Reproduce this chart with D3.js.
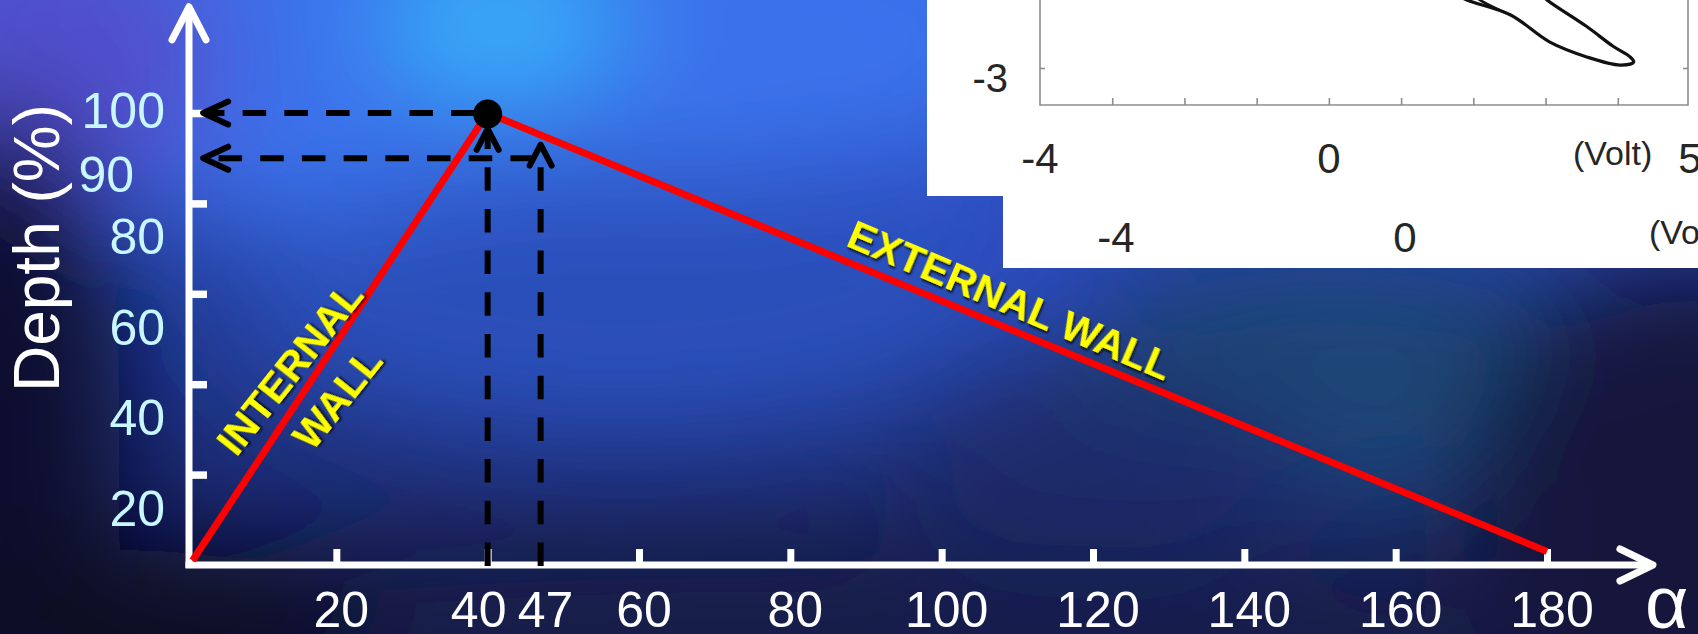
<!DOCTYPE html>
<html>
<head>
<meta charset="utf-8">
<script src="https://cdn.jsdelivr.net/npm/d3@7"></script>
<style>
  html, body { margin: 0; padding: 0; background: #1a2468; overflow: hidden; }
  svg { display: block; }
  text { font-family: "Liberation Sans", Arial, Helvetica, sans-serif; }
</style>
</head>
<body>
<svg id="chart" width="1698" height="634"></svg>
<script>
// ---- Wall profile: depth (%) against angle alpha ----
const internalAlpha = [1, 40];
const internalDepth = [1, 100];
const externalAlpha = [40, 180];
const externalDepth = [100, 3];
const peakAlpha = 40;
const peakDepth = 100;

const xTicks  = [20, 40, 60, 80, 100, 120, 140, 160, 180];
const xLabels = [20, 40, 47, 60, 80, 100, 120, 140, 160, 180];
const yTicks  = [20, 40, 60, 80, 100];
const yLabels = [20, 40, 60, 80, 90, 100];

// guide arrows: up from the alpha axis to the wall, then across to the depth axis
const guideAlpha    = [40, 47];
const guideTipDepth = [96.5, 93];
const guideDepth    = [100, 90];

// ---- Inset: voltage loop ----
const insetXTicks  = [-3, -2, -1, 0, 1, 2, 3, 4];
const insetXLabels = [-4, 0, 5];
const insetYTicks  = [-3];
const loopX  = [1.68, 1.91, 2.51, 3.06, 3.57, 4.03, 4.22, 4.17, 3.94, 3.57, 3.02, 2.90];
const loopY  = [-1.97, -2.08, -2.28, -2.65, -2.85, -2.96, -2.92, -2.85, -2.71, -2.44, -2.08, -1.97];
const innerX = [1.95, 2.09, 2.46];
const innerY = [-1.97, -2.08, -2.26];

const W = 1698, H = 634;
const svg = d3.select("#chart");
const defs = svg.append("defs");

// ---------- background: soft blue haze ----------
const base = defs.append("linearGradient").attr("id", "bgBase")
  .attr("x1", 0).attr("y1", 0).attr("x2", 0).attr("y2", 1);
base.append("stop").attr("offset", 0).attr("stop-color", "#3358d6");
base.append("stop").attr("offset", 0.45).attr("stop-color", "#233f9e");
base.append("stop").attr("offset", 1).attr("stop-color", "#171d52");

defs.append("filter").attr("id", "haze")
  .attr("filterUnits", "userSpaceOnUse")
  .attr("x", -300).attr("y", -300).attr("width", W + 600).attr("height", H + 600)
  .append("feGaussianBlur").attr("stdDeviation", 55);

svg.append("rect").attr("width", W).attr("height", H).attr("fill", "url(#bgBase)");
const blobs = [
  { cx: 480, cy: 40,  rx: 560, ry: 190, c: "#3a72ec" },
  { cx: 500, cy: 25,  rx: 120, ry: 60,  c: "#36b6fa" },
  { cx: 60,  cy: 60,  rx: 170, ry: 140, c: "#5150cc" },
  { cx: 900, cy: 240, rx: 220, ry: 90,  c: "#2d4ec4" },
  { cx: 620, cy: 300, rx: 380, ry: 130, c: "#2a50ba" },
  { cx: 1330,cy: 380, rx: 280, ry: 110, c: "#1c4676" },
  { cx: 1100,cy: 470, rx: 220, ry: 90,  c: "#1b2c6c" },
  { cx: 0,   cy: 430, rx: 120, ry: 330, c: "#0d0f2e" },
  { cx: 800, cy: 690, rx: 1000,ry: 150, c: "#161b4a" },
  { cx: 1690,cy: 520, rx: 230, ry: 260, c: "#12183e" },
  { cx: 120, cy: 640, rx: 260, ry: 90,  c: "#0b0b24" }
];
svg.append("g").attr("filter", "url(#haze)")
  .selectAll("ellipse").data(blobs).join("ellipse")
  .attr("cx", d => d.cx).attr("cy", d => d.cy)
  .attr("rx", d => d.rx).attr("ry", d => d.ry)
  .attr("fill", d => d.c);

// yellow caption shadow
const sh = defs.append("filter").attr("id", "shadow")
  .attr("x", "-10%").attr("y", "-30%").attr("width", "130%").attr("height", "170%");
sh.append("feDropShadow").attr("dx", 2).attr("dy", 2).attr("stdDeviation", 1.3)
  .attr("flood-color", "#000").attr("flood-opacity", 0.75);

// ---------- scales ----------
const x = d3.scaleLinear().domain([0, 180]).range([185, 1547]);
const y = d3.scaleLinear().domain([0, 100]).range([565, 113]);
const axisX = x(0) + 4;          // visual position of the depth axis
const xAxisEnd = x(194);         // arrow tip of alpha axis
const yAxisEnd = y(123.5);       // arrow tip of depth axis

// ---------- inset panels ----------
const ix = d3.scaleLinear().domain([-4, 5]).range([1040, 1690]);
const iy = d3.scaleLinear().domain([-3.5, -3]).range([105, 68]);
const frameRight = 1688;
const ink = "#262626";

// label row under the inset frame
function drawInsetLabels(g) {
  g.selectAll("text.ix").data(insetXLabels).join("text").attr("class", "ix")
    .attr("x", d => ix(d)).attr("y", 173)
    .attr("text-anchor", "middle").attr("font-size", 42).attr("fill", ink)
    .text(d => d);
  g.append("text").attr("x", ix(3.38)).attr("y", 165)
    .attr("font-size", 34).attr("fill", ink).text("(Volt)");
}

// frame, ticks and the loop itself
function drawInsetPlot(g) {
  g.append("path")
    .attr("d", `M${ix(-4)},-5V${iy(-3.5)}H${frameRight}V-5`)
    .attr("fill", "none").attr("stroke", "#8d8d8d").attr("stroke-width", 1.6);

  const bt = g.append("g").attr("transform", `translate(0,${iy(-3.5)})`)
    .call(d3.axisTop(ix).tickValues(insetXTicks).tickSize(7).tickFormat(""));
  bt.select(".domain").remove();
  bt.selectAll("line").attr("stroke", "#8d8d8d").attr("stroke-width", 1.6);

  const lt = g.append("g").attr("transform", `translate(${ix(-4)},0)`)
    .call(d3.axisRight(iy).tickValues(insetYTicks).tickSize(5).tickFormat(""));
  lt.select(".domain").remove();
  lt.selectAll("line").attr("stroke", "#8d8d8d").attr("stroke-width", 1.6);
  const rt = g.append("g").attr("transform", `translate(${frameRight},0)`)
    .call(d3.axisLeft(iy).tickValues(insetYTicks).tickSize(5).tickFormat(""));
  rt.select(".domain").remove();
  rt.selectAll("line").attr("stroke", "#8d8d8d").attr("stroke-width", 1.6);

  g.selectAll("text.iy").data(insetYTicks).join("text").attr("class", "iy")
    .attr("x", ix(-4) - 32).attr("y", d => iy(d) + 24)
    .attr("text-anchor", "end").attr("font-size", 40).attr("fill", ink)
    .text(d => d);

  const loopLine = d3.line().x(d => ix(d[0])).y(d => iy(d[1])).curve(d3.curveCatmullRom);
  g.append("path").datum(d3.zip(loopX, loopY)).attr("d", loopLine)
    .attr("fill", "none").attr("stroke", "#111").attr("stroke-width", 3.2)
    .attr("stroke-linejoin", "round");
  g.append("path").datum(d3.zip(innerX, innerY)).attr("d", loopLine)
    .attr("fill", "none").attr("stroke", "#111").attr("stroke-width", 2.6);
}

defs.append("clipPath").attr("id", "panelBack")
  .append("rect").attr("x", 1003).attr("y", 0).attr("width", W - 1003).attr("height", 268);
defs.append("clipPath").attr("id", "panelFront")
  .append("rect").attr("x", 927).attr("y", 0).attr("width", W - 927).attr("height", 196);

// rear panel: only its bottom label row shows below the front panel
const back = svg.append("g").attr("clip-path", "url(#panelBack)");
back.append("rect").attr("x", 1003).attr("y", 0).attr("width", W - 1003).attr("height", 268).attr("fill", "#fff");
drawInsetLabels(back.append("g").attr("transform", "translate(76,79)"));

const front = svg.append("g").attr("clip-path", "url(#panelFront)");
front.append("rect").attr("x", 927).attr("y", 0).attr("width", W - 927).attr("height", 196).attr("fill", "#fff");
drawInsetPlot(front.append("g"));
drawInsetLabels(front.append("g"));

const plot = svg.append("g");

// ---------- axes ----------
const white = "#ffffff";
plot.append("path")
  .attr("d", `M${axisX},${y(0) + 3}V${yAxisEnd}`)
  .attr("stroke", white).attr("stroke-width", 7).attr("fill", "none");
plot.append("path")
  .attr("d", `M${axisX - 17},${yAxisEnd + 33}L${axisX},${yAxisEnd}L${axisX + 17},${yAxisEnd + 33}`)
  .attr("stroke", white).attr("stroke-width", 7).attr("fill", "none")
  .attr("stroke-linecap", "round").attr("stroke-linejoin", "round");

plot.append("path")
  .attr("d", `M${axisX - 3.5},${y(0)}H${xAxisEnd}`)
  .attr("stroke", white).attr("stroke-width", 7).attr("fill", "none");
plot.append("path")
  .attr("d", `M${xAxisEnd - 33},${y(0) - 16}L${xAxisEnd},${y(0)}L${xAxisEnd - 33},${y(0) + 16}`)
  .attr("stroke", white).attr("stroke-width", 7).attr("fill", "none")
  .attr("stroke-linecap", "round").attr("stroke-linejoin", "round");

const gx = plot.append("g").attr("transform", `translate(0,${y(0)})`)
  .call(d3.axisTop(x).tickValues(xTicks).tickSize(16).tickFormat(""));
gx.select(".domain").remove();
gx.selectAll("line").attr("stroke", white).attr("stroke-width", 7);

const gy = plot.append("g").attr("transform", `translate(${axisX},0)`)
  .call(d3.axisRight(y).tickValues(yTicks).tickSize(18).tickFormat(""));
gy.select(".domain").remove();
gy.selectAll("line").attr("stroke", white).attr("stroke-width", 7.5);

// tick labels
const xLabelShift = v => (v === 40 ? -9 : 5);
plot.selectAll("text.xl").data(xLabels).join("text").attr("class", "xl")
  .attr("x", d => x(d) + xLabelShift(d)).attr("y", 627)
  .attr("text-anchor", "middle").attr("font-size", 50).attr("fill", white)
  .text(d => d);

const yLabelShift = v => (v === 100 ? -3 : v === 90 ? 16 : 33);
plot.selectAll("text.yl").data(yLabels).join("text").attr("class", "yl")
  .attr("x", d => (d === 90 ? 134 : 165)).attr("y", d => y(d) + yLabelShift(d) + 18)
  .attr("text-anchor", "end").attr("font-size", 50).attr("fill", "#c8f7ff")
  .text(d => d);

plot.append("text")
  .attr("transform", "translate(59,248) rotate(-90)")
  .attr("text-anchor", "middle").attr("font-size", 64).attr("fill", white)
  .text("Depth (%)");

plot.append("text").attr("x", xAxisEnd - 8).attr("y", 628)
  .attr("font-size", 75).attr("fill", white).text("α");

// ---------- wall profile ----------
const wallPts = d3.zip(internalAlpha, internalDepth).concat(d3.zip(externalAlpha, externalDepth).slice(1));
plot.append("path").datum(wallPts)
  .attr("d", d3.line().x(d => x(d[0])).y(d => y(d[1])))
  .attr("fill", "none").attr("stroke", "#ff0000").attr("stroke-width", 7)
  .attr("stroke-linejoin", "round");

// ---------- dashed guides ----------
const dash = "23.5 18.2";
guideAlpha.forEach((a, i) => {
  const gxp = x(a), tipY = y(guideTipDepth[i]);
  plot.append("path").attr("d", `M${gxp},${y(0) + 1}V${tipY + 6}`)
    .attr("stroke", "#000").attr("stroke-width", 6).attr("fill", "none")
    .attr("stroke-dasharray", dash);
  plot.append("path")
    .attr("d", `M${gxp - 11},${tipY + 21}L${gxp},${tipY}L${gxp + 11},${tipY + 21}`)
    .attr("stroke", "#000").attr("stroke-width", 6).attr("fill", "none")
    .attr("stroke-linecap", "round").attr("stroke-linejoin", "round");
});
const hOffsets = [28.7, 35];
const arrowX = x(2.4);
guideDepth.forEach((d, i) => {
  const yy = y(d);
  plot.append("path").attr("d", `M${x(guideAlpha[i])},${yy}H${arrowX + 3}`)
    .attr("stroke", "#000").attr("stroke-width", 6).attr("fill", "none")
    .attr("stroke-dasharray", dash).attr("stroke-dashoffset", hOffsets[i]);
  plot.append("path")
    .attr("d", `M${arrowX + 25},${yy - 11.5}L${arrowX},${yy}L${arrowX + 25},${yy + 11.5}`)
    .attr("stroke", "#000").attr("stroke-width", 6).attr("fill", "none")
    .attr("stroke-linecap", "round").attr("stroke-linejoin", "round");
});

plot.append("circle").attr("cx", x(peakAlpha)).attr("cy", y(peakDepth) + 1)
  .attr("r", 14.5).attr("fill", "#000");

// ---------- wall captions ----------
const yellow = "#ffff00";
const inner = plot.append("g")
  .attr("transform", `translate(${x(15.3)},${y(41.6)}) rotate(-51.5)`)
  .attr("filter", "url(#shadow)")
  .attr("font-size", 41).attr("font-weight", "bold").attr("fill", yellow)
  .attr("text-anchor", "middle");
inner.append("text").attr("x", 0).attr("y", 0).text("INTERNAL");
inner.append("text").attr("x", 6).attr("y", 56).text("WALL");

plot.append("text")
  .attr("transform", `translate(${x(108.3)},${y(55.7)}) rotate(23)`)
  .attr("filter", "url(#shadow)")
  .attr("font-size", 41).attr("font-weight", "bold").attr("fill", yellow)
  .attr("text-anchor", "middle").text("EXTERNAL WALL");
</script>
</body>
</html>
